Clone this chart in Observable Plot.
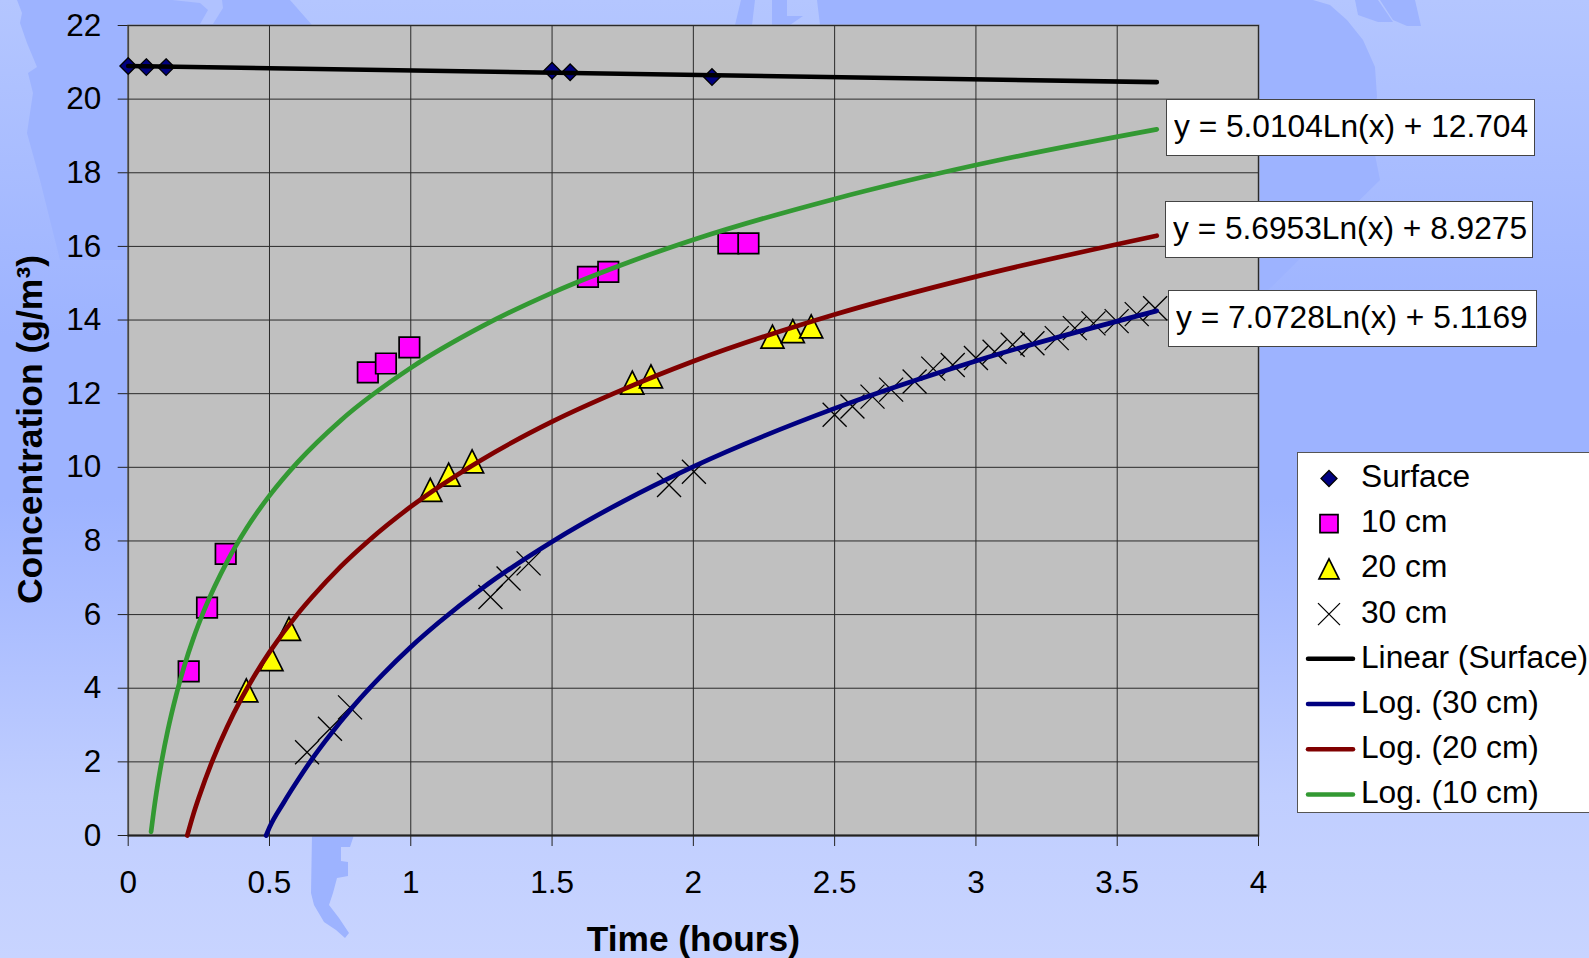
<!DOCTYPE html>
<html>
<head>
<meta charset="utf-8">
<script src="https://cdn.jsdelivr.net/npm/d3@7"></script>
<script src="https://cdn.jsdelivr.net/npm/@observablehq/plot@0.6"></script>
<style>
html,body{margin:0;padding:0;width:1589px;height:958px;overflow:hidden;font-family:"Liberation Sans",Arial,sans-serif;color:#000}
body{position:relative;background:linear-gradient(180deg,#b4c6ff 0,#9db3ff 35%,#9db3ff 52%,#a8bbff 62%,#c0ceff 83%,#c8d4ff 100%)}
#map,#chart{position:absolute;left:0;top:0}
#chart svg{display:block}
.eq{position:absolute;box-sizing:border-box;background:#fff;border:1.5px solid #444;height:57px;display:flex;align-items:center;padding-left:6.5px;white-space:nowrap;font-size:31px}
.eq span,.row span{display:inline-block;transform:scaleX(1.022);transform-origin:left center}
#legend{position:absolute;box-sizing:border-box;left:1297px;top:452px;width:292px;height:361px;background:#fff;border:1.5px solid #555;border-right:none}
#legend svg{position:absolute;left:0;top:0}
.row{position:absolute;left:62.5px;font-size:31px;line-height:34px;white-space:nowrap}
</style>
</head>
<body>
<svg id="map" width="1589" height="958">
  <g fill="#9db3ff">
    <polygon points="17,0 22,13 20,23 27,43 37,67 28,73 33,93 27,133 40,180 60,260 130,260 312,25 290,0"/>
    <polygon points="741,0 755,0 752,25 735,25"/>
    <polygon points="772,0 787,0 787,16 803,16 790,25 772,25"/>
    <polygon points="817,0 1313,0 1330,5 1347,20 1363,40 1375,67 1377,97 1370,130 1380,180 1258,300 820,25"/>
    <polygon points="1355,0 1378,0 1393,22 1378,22 1358,15"/>
    <polygon points="1380,0 1415,0 1421,26 1407,26 1393,20"/>
    <polygon points="312,835 354,835 350,847 341,847 341,861 348,862 348,876 337,878 333,893 329,905 339,918 349,933 345,938 336,930 324,922 314,905 311,893"/>
  </g>
  <polygon fill="#b0c2ff" points="172,0 222,0 223,8 213,24 200,24 208,10 200,3"/>
</svg>
<div id="chart"></div>
<div class="eq" style="left:1166px;top:98.5px;width:369px"><span>y = 5.0104Ln(x) + 12.704</span></div>
<div class="eq" style="left:1165px;top:200.5px;width:368px"><span>y = 5.6953Ln(x) + 8.9275</span></div>
<div class="eq" style="left:1168px;top:289.5px;width:369px"><span>y = 7.0728Ln(x) + 5.1169</span></div>
<div id="legend"></div>
<script>
// Axis ticks
const xTicks = [0, 0.5, 1, 1.5, 2, 2.5, 3, 3.5, 4];
const yTicks = [0, 2, 4, 6, 8, 10, 12, 14, 16, 18, 20, 22];

// Measured points
const surfaceX = [0, 0.064, 0.134, 1.50, 1.564, 2.066];
const surfaceY = [20.90, 20.87, 20.87, 20.77, 20.73, 20.60];
const cm10X = [0.214, 0.279, 0.345, 0.848, 0.912, 0.995, 1.627, 1.699, 2.124, 2.195];
const cm10Y = [4.46, 6.19, 7.65, 12.58, 12.82, 13.26, 15.17, 15.31, 16.08, 16.08];
const cm20X = [0.418, 0.507, 0.569, 1.069, 1.134, 1.217, 1.784, 1.85, 2.28, 2.352, 2.417];
const cm20Y = [3.94, 4.79, 5.61, 9.39, 9.80, 10.16, 12.30, 12.47, 13.55, 13.70, 13.83];
const cm30X = [0.633, 0.714, 0.785, 1.282, 1.346, 1.417, 1.914, 2.002, 2.50, 2.563, 2.634, 2.70, 2.783, 2.849, 2.918, 3.00, 3.066, 3.13, 3.20, 3.286, 3.35, 3.416, 3.498, 3.569, 3.634];
const cm30Y = [2.26, 2.90, 3.48, 6.48, 6.98, 7.39, 9.52, 9.88, 11.43, 11.65, 11.92, 12.11, 12.33, 12.68, 12.78, 12.97, 13.14, 13.33, 13.37, 13.51, 13.78, 13.91, 13.97, 14.16, 14.32];

// Trend lines
const linearX = [0, 3.64];
const linearY = [20.90, 20.46];
const log10X = [0.081, 0.09, 0.10, 0.12, 0.14, 0.17, 0.20, 0.23, 0.27, 0.35, 0.42, 0.50, 0.60, 0.75, 1, 1.25, 1.5, 1.75, 2, 2.5, 3, 3.64];
const log10Y = [0.1, 0.64, 1.17, 2.08, 2.85, 3.82, 4.64, 5.34, 6.14, 7.44, 8.36, 9.23, 10.14, 11.26, 12.70, 13.82, 14.74, 15.51, 16.18, 17.29, 18.21, 19.18];
const log20X = [0.209, 0.23, 0.25, 0.30, 0.35, 0.40, 0.45, 0.50, 0.60, 0.65, 0.75, 0.85, 1, 1.25, 1.5, 1.75, 2, 2.5, 3, 3.64];
const log20Y = [0.0, 0.56, 1.03, 2.07, 2.95, 3.71, 4.38, 4.98, 6.02, 6.47, 7.29, 8.00, 8.93, 10.20, 11.24, 12.11, 12.88, 14.15, 15.18, 16.29];
const log30X = [0.488, 0.50, 0.55, 0.60, 0.65, 0.70, 0.80, 0.90, 1, 1.1, 1.25, 1.5, 1.75, 2, 2.5, 3, 3.64];
const log30Y = [0.0, 0.22, 0.89, 1.50, 2.07, 2.59, 3.54, 4.37, 5.12, 5.79, 6.70, 7.98, 9.07, 10.02, 11.60, 12.89, 14.25];

// Legend entries
const legendLabels = ["Surface", "10 cm", "20 cm", "30 cm", "Linear (Surface)", "Log. (30 cm)", "Log. (20 cm)", "Log. (10 cm)"];

const pairs = (xs, ys) => xs.map((x, i) => ({x, y: ys[i]}));
const half = size => Math.sqrt(size / Math.PI);
const poly = (c, pts) => { pts.forEach(([a, b], i) => i ? c.lineTo(a, b) : c.moveTo(a, b)); c.closePath(); };
const diamond = {draw(c, s) { const r = half(s); poly(c, [[0, -r], [r, 0], [0, r], [-r, 0]]); }};
const square = {draw(c, s) { const r = half(s); poly(c, [[-r, -r], [r, -r], [r, r], [-r, r]]); }};
const triangle = {draw(c, s) { const r = half(s); poly(c, [[0, -r], [r, r], [-r, r]]); }};
const cross = {draw(c, s) { const r = half(s); c.moveTo(-r, -r); c.lineTo(r, r); c.moveTo(-r, r); c.lineTo(r, -r); }};

const navy = "#000080", magenta = "#ff00ff", yellow = "#ffff00", maroon = "#800000", green = "#339933";
const font = "Liberation Sans, Arial, sans-serif";
const trend = (xs, ys, stroke) => Plot.line(pairs(xs, ys), {x: "x", y: "y", stroke, strokeWidth: 4.7, strokeLinecap: "round", curve: "monotone-x"});
const points = (xs, ys, symbol, r, fill, strokeWidth) => Plot.dot(pairs(xs, ys), {x: "x", y: "y", symbol, r, fill, stroke: "#000", strokeWidth});

const chart = Plot.plot({
  width: 1589,
  height: 958,
  marginLeft: 127.7,
  marginRight: 331,
  marginTop: 25,
  marginBottom: 123,
  style: {background: "transparent", fontFamily: font, color: "#000", overflow: "visible"},
  x: {domain: [0, 4]},
  y: {domain: [0, 22]},
  marks: [
    Plot.frame({fill: "#c0c0c0", stroke: "#808080", strokeWidth: 2}),
    Plot.ruleX(xTicks, {stroke: "#2a2a2a", strokeWidth: 1}),
    Plot.ruleY(yTicks, {stroke: "#2a2a2a", strokeWidth: 1}),
    Plot.ruleY([0], {stroke: "#222", strokeWidth: 2}),
    Plot.axisX(xTicks, {tickSize: 11, tickPadding: 24, fontSize: 31.5, stroke: "#222", tickFormat: d => String(d), label: null}),
    Plot.axisY(yTicks, {tickSize: 10, tickPadding: 17, fontSize: 31.5, stroke: "#222", tickFormat: d => String(d), label: null}),
    Plot.text(["Time (hours)"], {frameAnchor: "bottom", lineAnchor: "middle", dy: 104, fontSize: 35.3, fontWeight: 700, fill: "#000"}),
    Plot.text(["Concentration (g/m³)"], {frameAnchor: "left", lineAnchor: "middle", textAnchor: "middle", rotate: -90, dx: -98, dy: -1, fontSize: 35.5, fontWeight: 700, fill: "#000"}),
    points(surfaceX, surfaceY, diamond, 8.3, navy, 1.3),
    points(cm10X, cm10Y, square, 10.25, magenta, 1.7),
    points(cm20X, cm20Y, triangle, 11.5, yellow, 1.7),
    points(cm30X, cm30Y, cross, 12, "none", 1.3),
    trend(log10X, log10Y, green),
    trend(log20X, log20Y, maroon),
    trend(log30X, log30Y, navy),
    trend(linearX, linearY, "#000")
  ]
});
document.getElementById("chart").appendChild(chart);

// Legend
const legend = d3.select("#legend");
const swatchSvg = legend.append("svg").attr("width", 292).attr("height", 361);
const rowStep = 45.2, rowStart = 24;
const legendMarks = [
  {symbol: diamond, r: 8, fill: navy, sw: 1.3},
  {symbol: square, r: 9, fill: magenta, sw: 1.7},
  {symbol: triangle, r: 10, fill: yellow, sw: 1.7},
  {symbol: cross, r: 11, fill: "none", sw: 1.3},
  {line: "#000"}, {line: navy}, {line: maroon}, {line: green}
];
legendLabels.forEach((label, i) => {
  const cy = rowStart + i * rowStep;
  legend.append("div").attr("class", "row").style("top", (cy - 17) + "px").append("span").text(label);
  const m = legendMarks[i];
  if (m.line) {
    swatchSvg.append("line").attr("x1", 10).attr("x2", 55).attr("y1", cy + 1).attr("y2", cy + 1)
      .attr("stroke", m.line).attr("stroke-width", 4.5).attr("stroke-linecap", "round");
  } else {
    swatchSvg.append("path").attr("transform", `translate(31,${cy + 1.5})`)
      .attr("d", d3.symbol(m.symbol, Math.PI * m.r * m.r)())
      .attr("fill", m.fill).attr("stroke", "#000").attr("stroke-width", m.sw);
  }
});
</script>
</body>
</html>
